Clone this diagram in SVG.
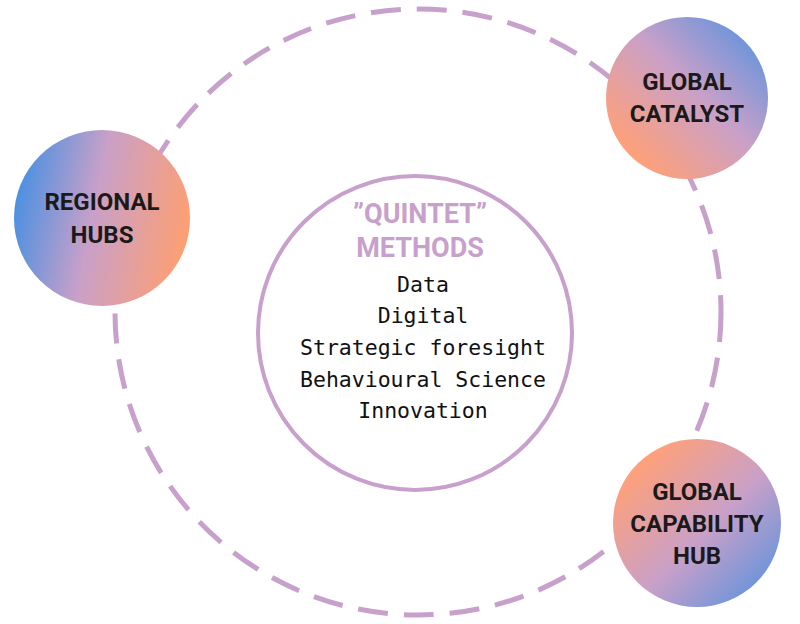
<svg xmlns="http://www.w3.org/2000/svg" width="800" height="624" viewBox="0 0 800 624">
<defs>
<linearGradient id="gR" x1="0" y1="0.4" x2="1" y2="0.6"><stop offset="0" stop-color="#4a90e2"/><stop offset="0.45" stop-color="#c9a0c8"/><stop offset="1" stop-color="#ff9f70"/></linearGradient>
<linearGradient id="gC" x1="1" y1="0" x2="0" y2="1"><stop offset="0" stop-color="#4a90e2"/><stop offset="0.45" stop-color="#c9a0c8"/><stop offset="0.85" stop-color="#ffa07a"/></linearGradient>
<linearGradient id="gH" x1="0" y1="0" x2="1" y2="1"><stop offset="0.15" stop-color="#ffa07a"/><stop offset="0.55" stop-color="#c9a0c8"/><stop offset="1" stop-color="#4a90e2"/></linearGradient>
<style>
.n{font-family:Roboto,"Liberation Sans",sans-serif;font-weight:bold;font-size:24px;fill:#1a1a1a;text-anchor:middle}
.t{font-family:Roboto,"Liberation Sans",sans-serif;font-weight:bold;font-size:27px;fill:#c8a0cc;text-anchor:middle}
.m{font-family:"DejaVu Sans Mono","Liberation Mono",monospace;font-size:21.5px;fill:#111;text-anchor:middle}
</style>
</defs>
<rect width="800" height="624" fill="#fff"/>
<g id="connectors">
<circle cx="418" cy="312" r="303" fill="none" stroke="#c8a0cc" stroke-width="5" stroke-dasharray="30 16"/>
</g>
<g id="center">
<circle cx="415" cy="333" r="157" fill="#fff" stroke="#c8a0cc" stroke-width="4"/>
<text class="t" x="420" y="223">”QUINTET”</text>
<text class="t" x="420" y="257">METHODS</text>
<text class="m" x="423" y="292">Data</text>
<text class="m" x="423" y="323">Digital</text>
<text class="m" x="423" y="355">Strategic foresight</text>
<text class="m" x="423" y="387">Behavioural Science</text>
<text class="m" x="423" y="418">Innovation</text>
</g>
<g id="regional">
<circle cx="102" cy="218" r="88" fill="url(#gR)"/>
<text class="n" x="102" y="210">REGIONAL</text>
<text class="n" x="102" y="243">HUBS</text>
</g>
<g id="catalyst">
<circle cx="687" cy="98" r="81" fill="url(#gC)"/>
<text class="n" x="687" y="90">GLOBAL</text>
<text class="n" x="687" y="122">CATALYST</text>
</g>
<g id="capability">
<circle cx="697" cy="523" r="84" fill="url(#gH)"/>
<text class="n" x="697" y="500">GLOBAL</text>
<text class="n" x="697" y="532">CAPABILITY</text>
<text class="n" x="697" y="564">HUB</text>
</g>
</svg>
